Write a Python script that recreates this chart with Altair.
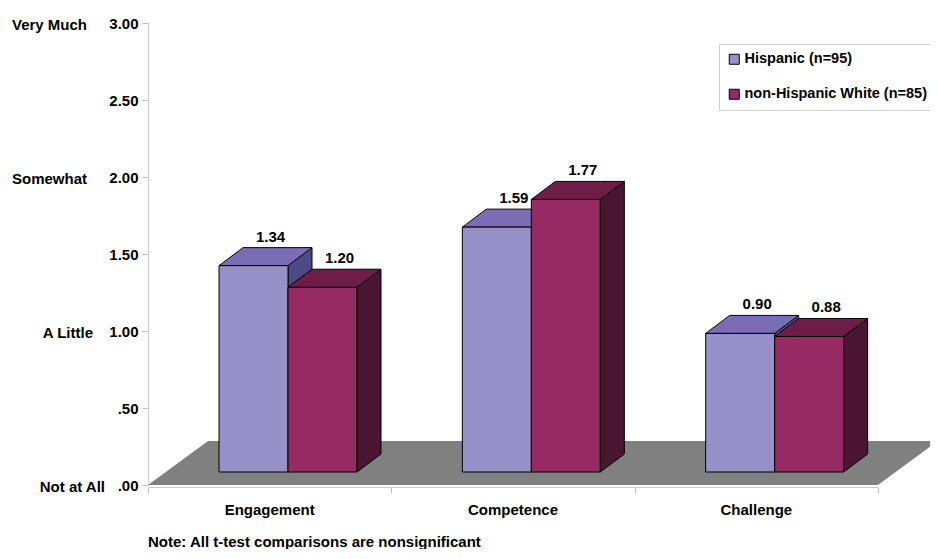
import altair as alt
import pandas as pd

# ---------------- data ----------------
categories = ["Engagement", "Competence", "Challenge"]
groups = ["Hispanic (n=95)", "non-Hispanic White (n=85)"]
hispanic = [1.34, 1.59, 0.90]
white = [1.20, 1.77, 0.88]
y_ticks = [0.0, 0.5, 1.0, 1.5, 2.0, 2.5, 3.0]
anchor_labels = ["Not at All", "A Little", "Somewhat", "Very Much"]
anchor_values = [0, 1, 2, 3]
note_text = "Note: All t-test comparisons are nonsignificant"

# ---------------- style / layout ----------------
W, H, YMAX = 730, 462, 3.0
PXU = H / YMAX                 # pixels per value unit
BAND = W / len(categories)     # x data units are pixels
BAR_LEFT, BAR_W = 71, 69       # front face placement inside a band
DX, DY = 24, 18                # bar depth (px)
LIFT = 13                      # bars stand slightly into the floor (px)
FLOOR_DX, FLOOR_DY = 60, 44    # floor depth (px)
LABEL_DX = 17                  # value label shift from front-face centre (px)
anchor_right = [-43, -55, -61, -61]   # right edge of the verbal anchors (px from axis)
front_colors = ["#9890C8", "#952B62"]
top_colors = ["#7B6DB5", "#6D1D48"]
side_colors = ["#51488A", "#4A1532"]
FLOOR_COLOR = "#808080"
FONT = "Liberation Sans"
FS = 15

series = [hispanic, white]


def u(px):
    return px / PXU


lift = u(LIFT)
dyv = u(DY)

front_rows, top_rows, side_rows, label_rows = [], [], [], []
for gi, (g, vals) in enumerate(zip(groups, series)):
    for ci, (c, v) in enumerate(zip(categories, vals)):
        x0 = ci * BAND + BAR_LEFT + gi * BAR_W
        x1 = x0 + BAR_W
        lo, hi = lift, lift + v
        front_rows.append(dict(group=g, cat=c, x=x0, x2=x1, y=lo, y2=hi))
        key = f"{g}-{c}"
        top_rows += [
            dict(gi=gi, id=key, x=x0, y=hi, y2=hi),
            dict(gi=gi, id=key, x=x0 + DX, y=hi, y2=hi + dyv),
            dict(gi=gi, id=key, x=x1, y=hi, y2=hi + dyv),
            dict(gi=gi, id=key, x=x1 + DX, y=hi + dyv, y2=hi + dyv),
        ]
        side_rows += [
            dict(gi=gi, id=key, x=x1, y=lo, y2=hi),
            dict(gi=gi, id=key, x=x1 + DX, y=lo + dyv, y2=hi + dyv),
        ]
        label_rows.append(dict(x=(x0 + x1) / 2 + LABEL_DX, y=hi + dyv, text=f"{v:.2f}"))

front_df = pd.DataFrame(front_rows)
top_df = pd.DataFrame(top_rows)
side_df = pd.DataFrame(side_rows)
label_df = pd.DataFrame(label_rows)

fdy = u(FLOOR_DY)
floor_df = pd.DataFrame([
    dict(x=0, y=0, y2=0),
    dict(x=FLOOR_DX, y=0, y2=fdy),
    dict(x=W, y=0, y2=fdy),
    dict(x=W + FLOOR_DX, y=fdy, y2=fdy),
])

cat_df = pd.DataFrame(dict(x=[(i + 0.5) * BAND for i in range(len(categories))],
                           y=[0] * len(categories), text=categories))
anchor_df = pd.DataFrame(dict(x=anchor_right, y=anchor_values, text=anchor_labels))
note_df = pd.DataFrame(dict(x=[0], y=[0], text=[note_text]))

xs = alt.Scale(domain=[0, W], nice=False, zero=False)
ys = alt.Scale(domain=[0, YMAX], nice=False, zero=False)

x_axis = alt.Axis(values=[i * BAND for i in range(len(categories) + 1)], labels=False,
                  title=None, grid=False, tickSize=6, tickColor="#c0c0c0",
                  domainColor="#c8c8c8", offset=2, orient="bottom")
y_axis = alt.Axis(values=y_ticks, title=None, grid=False, tickSize=6, tickColor="#c0c0c0",
                  domainColor="#c8c8c8", labelPadding=4, labelFont=FONT, labelFontSize=FS,
                  labelFontWeight="bold", labelColor="black",
                  labelExpr="datum.value < 1 ? substring(format(datum.value, '.2f'), 1) : format(datum.value, '.2f')")


def X():
    return alt.X("x:Q", scale=xs, axis=x_axis)


def Y():
    return alt.Y("y:Q", scale=ys, axis=y_axis)


floor = alt.Chart(floor_df).mark_area(orient="vertical", color=FLOOR_COLOR, opacity=1).encode(
    x=X(), y=Y(), y2="y2:Q")


def area_layer(df, gi, color):
    return alt.Chart(df[df.gi == gi]).mark_area(
        orient="vertical", fill=color, stroke="black", strokeWidth=1, opacity=1,
        strokeJoin="miter").encode(x=X(), y=Y(), y2="y2:Q", detail="id:N")


fronts = alt.Chart(front_df).mark_rect(stroke="black", strokeWidth=1).encode(
    x=X(), x2="x2:Q", y=Y(), y2="y2:Q",
    fill=alt.Fill("group:N", scale=alt.Scale(domain=groups, range=front_colors),
                  legend=alt.Legend(title=None, orient="none", legendX=571, legendY=21,
                                    direction="vertical", symbolType="square", symbolSize=100,
                                    symbolStrokeColor="black", symbolStrokeWidth=1,
                                    labelFont=FONT, labelFontSize=14.5, labelFontWeight="bold",
                                    labelColor="black", labelLimit=400, labelOffset=3,
                                    rowPadding=19, padding=8, strokeColor="#d0d0d0",
                                    fillColor="white")),
)

value_labels = alt.Chart(label_df).mark_text(
    font=FONT, fontSize=FS, fontWeight="bold", color="black", baseline="middle",
    align="center", dy=-11).encode(x=X(), y=Y(), text="text:N")

cat_labels = alt.Chart(cat_df).mark_text(
    font=FONT, fontSize=FS, fontWeight="bold", color="black", baseline="middle",
    align="center", dy=25).encode(x=X(), y=Y(), text="text:N")

anchors = alt.Chart(anchor_df).mark_text(
    font=FONT, fontSize=FS, fontWeight="bold", color="black", baseline="middle",
    align="right", dy=2).encode(x=X(), y=Y(), text="text:N")

note = alt.Chart(note_df).mark_text(
    font=FONT, fontSize=FS, fontWeight="bold", color="black", baseline="middle",
    align="left", dy=57).encode(x=X(), y=Y(), text="text:N")

chart = alt.layer(
    floor,
    area_layer(side_df, 0, side_colors[0]),
    area_layer(top_df, 0, top_colors[0]),
    fronts,
    area_layer(side_df, 1, side_colors[1]),
    area_layer(top_df, 1, top_colors[1]),
    value_labels, cat_labels, anchors, note,
).properties(
    width=W, height=H,
    autosize=alt.AutoSizeParams(type="none"),
    padding={"left": 140, "top": 15, "right": 52, "bottom": 64},
    background="white",
).configure_view(stroke=None)

chart.save("out.html", embed_options={"renderer": "svg", "actions": False})
